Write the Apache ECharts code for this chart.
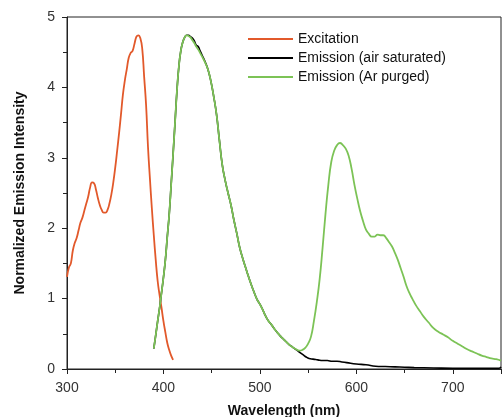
<!DOCTYPE html>
<html>
<head>
<meta charset="utf-8">
<script src="https://cdn.jsdelivr.net/npm/echarts@6/dist/echarts.min.js"></script>
<style>
  html, body { margin: 0; padding: 0; background: #fff; }
  #main { width: 502px; height: 417px; }
</style>
</head>
<body>
<div id="main"></div>
<script>
// excitation spectrum
var excitationX = [300, 302, 304, 306, 308, 310, 312, 314, 316, 318, 320, 322, 324, 326, 328, 330, 332, 334, 336, 338,
  340, 342, 344, 346, 348, 350, 352, 354, 356, 358, 360, 362, 364, 366, 368, 370, 372, 374, 376, 378,
  380, 382, 384, 386, 388, 390, 392, 394, 396, 398, 400, 402, 404, 406, 408, 410];
var excitationY = [1.31, 1.44, 1.50, 1.68, 1.79, 1.86, 1.97, 2.08, 2.15, 2.25, 2.35, 2.45, 2.58, 2.65, 2.64, 2.55, 2.43, 2.33, 2.26, 2.22,
  2.22, 2.26, 2.35, 2.48, 2.65, 2.86, 3.10, 3.35, 3.62, 3.90, 4.10, 4.26, 4.42, 4.49, 4.52, 4.62, 4.72, 4.74, 4.70, 4.55,
  4.15, 3.75, 3.15, 2.70, 2.28, 1.90, 1.55, 1.25, 1.05, 0.87, 0.68, 0.52, 0.37, 0.27, 0.19, 0.13];

// emission, air saturated
var airX = [390, 392, 394, 396, 398, 400, 402, 404, 406, 408, 410, 412, 414, 416, 418, 420, 422, 424, 426, 428,
  430, 432, 434, 436, 438, 440, 443, 446, 449, 452, 455, 458, 461, 464, 467, 470, 473, 476, 479, 482,
  485, 488, 491, 494, 497, 500, 503, 506, 509, 512, 515, 518, 521, 524, 527, 530, 533, 536, 539, 542,
  545, 548, 551, 555, 560, 565, 570, 575, 580, 585, 590, 600, 610, 620, 630, 640, 650, 660, 680, 700,
  720, 740, 748, 750];
var airY = [0.29, 0.48, 0.68, 0.87, 1.08, 1.30, 1.55, 1.88, 2.20, 2.62, 3.05, 3.50, 3.95, 4.30, 4.52, 4.64, 4.71, 4.74, 4.74, 4.72,
  4.70, 4.66, 4.60, 4.58, 4.52, 4.46, 4.37, 4.26, 4.10, 3.88, 3.62, 3.25, 2.90, 2.68, 2.50, 2.33, 2.12, 1.93, 1.73, 1.58,
  1.45, 1.32, 1.20, 1.09, 0.99, 0.92, 0.84, 0.75, 0.68, 0.63, 0.57, 0.52, 0.47, 0.43, 0.39, 0.35, 0.32, 0.29, 0.26, 0.23,
  0.20, 0.17, 0.15, 0.14, 0.13, 0.12, 0.12, 0.11, 0.11, 0.10, 0.09, 0.07, 0.06, 0.04, 0.035, 0.03, 0.025, 0.02, 0.015, 0.01,
  0.01, 0.01, 0.01, 0.03];

// emission, Ar purged
var arX = [390, 392, 394, 396, 398, 400, 402, 404, 406, 408, 410, 412, 414, 416, 418, 420, 422, 424, 426, 428,
  430, 432, 434, 436, 438, 440, 443, 446, 449, 452, 455, 458, 461, 464, 467, 470, 473, 476, 479, 482,
  485, 488, 491, 494, 497, 500, 503, 506, 509, 512, 515, 518, 521, 524, 527, 530, 533, 536, 539, 541,
  544, 547, 550, 553, 556, 559, 562, 565, 568, 571, 574, 577, 580, 583, 586, 589, 592, 595, 598, 601,
  604, 607, 610, 613, 616, 619, 622, 625, 628, 631, 634, 637, 640, 643, 646, 649, 652, 655, 658, 662,
  666, 670, 675, 680, 685, 690, 695, 700, 705, 710, 715, 720, 725, 730, 735, 740, 745, 750];
var arY = [0.29, 0.48, 0.68, 0.87, 1.08, 1.30, 1.55, 1.88, 2.20, 2.62, 3.05, 3.50, 3.95, 4.30, 4.52, 4.64, 4.71, 4.74, 4.73, 4.71,
  4.67, 4.63, 4.58, 4.54, 4.49, 4.44, 4.36, 4.26, 4.10, 3.88, 3.62, 3.25, 2.90, 2.68, 2.50, 2.33, 2.12, 1.93, 1.73, 1.58,
  1.45, 1.32, 1.20, 1.09, 0.99, 0.92, 0.84, 0.75, 0.68, 0.63, 0.57, 0.52, 0.47, 0.43, 0.39, 0.35, 0.32, 0.29, 0.27, 0.26,
  0.27, 0.30, 0.36, 0.46, 0.68, 0.95, 1.28, 1.72, 2.20, 2.62, 2.94, 3.10, 3.18, 3.21, 3.18, 3.13, 3.03, 2.85, 2.62, 2.42,
  2.24, 2.10, 1.98, 1.92, 1.88, 1.88, 1.91, 1.90, 1.90, 1.86, 1.80, 1.74, 1.65, 1.55, 1.43, 1.31, 1.18, 1.08, 1.00, 0.90,
  0.82, 0.74, 0.66, 0.58, 0.53, 0.49, 0.45, 0.40, 0.36, 0.32, 0.28, 0.25, 0.22, 0.19, 0.17, 0.15, 0.14, 0.12];

var seriesNames = ['Excitation', 'Emission (air saturated)', 'Emission (Ar purged)'];
var colors = ['#e2592b', '#000000', '#7cc356'];

function pairs(xs, ys) {
  var out = [];
  for (var i = 0; i < xs.length; i++) out.push([xs[i], ys[i]]);
  return out;
}

var chart = echarts.init(document.getElementById('main'));
var font = '"Liberation Sans", Arial, sans-serif';

var option = {
  animation: false,
  color: colors,
  textStyle: { fontFamily: font },
  grid: {
    left: 67, right: 1, top: 17, bottom: 48,
    containLabel: false,
    outerBoundsMode: 'none',
    show: true, borderColor: '#222', borderWidth: 1
  },
  legend: {
    orient: 'vertical',
    left: 248, top: 32,
    padding: 0,
    icon: 'rect',
    itemWidth: 45, itemHeight: 2, itemGap: 5,
    textStyle: { fontSize: 14, color: '#111', fontFamily: font },
    data: seriesNames
  },
  xAxis: {
    type: 'value', min: 300, max: 750, interval: 100,
    name: 'Wavelength (nm)', nameLocation: 'middle', nameGap: 35,
    nameTextStyle: { fontSize: 14, fontWeight: 'bold', color: '#111', fontFamily: font },
    axisLine: { lineStyle: { color: '#222', width: 1 } },
    axisTick: { length: 5, lineStyle: { color: '#222' } },
    minorTick: { show: true, splitNumber: 2, length: 4, lineStyle: { color: '#222' } },
    axisLabel: { fontSize: 14, color: '#333', margin: 12, fontFamily: font, showMaxLabel: false },
    splitLine: { show: false }
  },
  yAxis: {
    type: 'value', min: 0, max: 5, interval: 1,
    name: 'Normalized Emission Intensity', nameLocation: 'middle', nameGap: 40,
    nameTextStyle: { fontSize: 14, fontWeight: 'bold', color: '#111', fontFamily: font },
    axisLine: { show: true, lineStyle: { color: '#222', width: 1 } },
    axisTick: { show: true, length: 5, lineStyle: { color: '#222' } },
    minorTick: { show: true, splitNumber: 2, length: 4, lineStyle: { color: '#222' } },
    axisLabel: { fontSize: 14, color: '#333', margin: 12, fontFamily: font },
    splitLine: { show: false }
  },
  series: [
    { name: seriesNames[0], type: 'line', smooth: true, symbol: 'none',
      lineStyle: { width: 1.8, color: colors[0] }, data: pairs(excitationX, excitationY) },
    { name: seriesNames[1], type: 'line', smooth: true, symbol: 'none',
      lineStyle: { width: 1.6, color: colors[1] }, data: pairs(airX, airY) },
    { name: seriesNames[2], type: 'line', smooth: true, symbol: 'none',
      lineStyle: { width: 1.8, color: colors[2] }, data: pairs(arX, arY) }
  ]
};
chart.setOption(option);
</script>
</body>
</html>
